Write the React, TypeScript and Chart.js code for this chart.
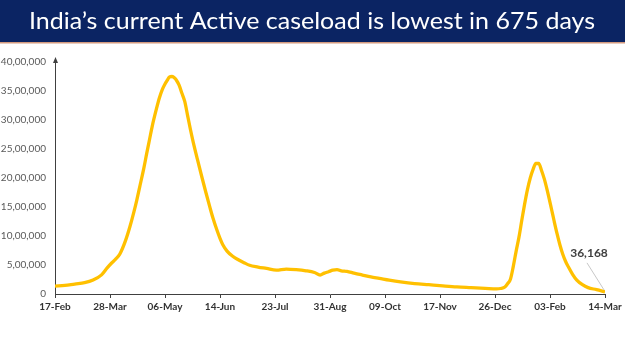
import React, { useEffect, useRef } from "react";
import { Chart, registerables } from "chart.js";

Chart.register(...registerables);

const TITLE = "India’s current Active caseload is lowest in 675 days";

const xTickLabels = [
  "17-Feb", "28-Mar", "06-May", "14-Jun", "23-Jul", "31-Aug",
  "09-Oct", "17-Nov", "26-Dec", "03-Feb", "14-Mar",
];
const X_STEP_DAYS = 39;

// days since 17-Feb-2021
const dayOffsets = [
  0, 7, 14, 21, 27, 33, 37, 40, 43, 46, 50, 53, 56, 58, 60, 63, 65, 67, 69, 72,
  74, 76, 78, 80, 81, 83, 85, 86, 88, 90, 92, 94, 96, 98, 101, 104, 107, 110, 112, 115,
  117, 119, 122, 126, 130, 134, 138, 144, 150, 157, 164, 171, 178, 184, 188, 191, 194, 197, 200, 203,
  207, 212, 218, 224, 230, 237, 245, 255, 265, 275, 285, 295, 305, 313, 316, 319, 321, 323, 325, 327,
  329, 331, 333, 335, 337, 339, 341, 343, 345, 347, 349, 352, 354, 356, 358, 360, 362, 364, 367, 370,
  374, 378, 384, 390,
];

const activeCases = [
  137000, 147000, 172000, 195000, 240000, 330000, 450000, 530000, 600000, 690000,
  920000, 1150000, 1420000, 1620000, 1840000, 2170000, 2420000, 2660000, 2900000, 3200000,
  3380000, 3520000, 3620000, 3700000, 3740000, 3750000, 3720000, 3690000, 3600000, 3460000,
  3320000, 3080000, 2840000, 2620000, 2320000, 2030000, 1750000, 1480000, 1310000, 1090000,
  960000, 850000, 740000, 650000, 590000, 540000, 495000, 465000, 440000, 410000,
  430000, 420000, 400000, 370000, 327000, 360000, 384000, 410000, 420000, 400000,
  390000, 360000, 327000, 295000, 270000, 240000, 210000, 180000, 160000, 140000,
  122000, 110000, 98000, 88000, 95000, 120000, 180000, 260000, 480000, 740000,
  980000, 1270000, 1550000, 1800000, 2000000, 2150000, 2250000, 2250000, 2130000, 1980000,
  1790000, 1470000, 1250000, 1040000, 850000, 690000, 565000, 470000, 340000, 240000,
  160000, 110000, 75000, 36168,
];

const Y_MAX = 4000000;
const Y_STEP = 500000;

function formatIndian(n: number): string {
  const s = Math.round(n).toString();
  if (s.length <= 3) return s;
  const last3 = s.slice(-3);
  let rest = s.slice(0, -3);
  const parts: string[] = [];
  while (rest.length > 2) {
    parts.unshift(rest.slice(-2));
    rest = rest.slice(0, -2);
  }
  if (rest) parts.unshift(rest);
  return parts.join(",") + "," + last3;
}

const decorPlugin = {
  id: "decor",
  beforeDraw(chart: any) {
    const ctx = chart.ctx as CanvasRenderingContext2D;
    ctx.save();
    ctx.fillStyle = "#ffffff";
    ctx.fillRect(0, 0, chart.width, chart.height);
    ctx.fillStyle = "#0b2463";
    ctx.fillRect(0, 0, chart.width, 42);
    ctx.fillStyle = "#d39a7e";
    ctx.fillRect(0, 42, chart.width, 1.5);
    ctx.font = "24px Lato";
    const w = ctx.measureText(TITLE).width;
    ctx.translate(29, 29);
    ctx.scale(566 / w, 1);
    ctx.fillStyle = "#ffffff";
    ctx.textBaseline = "alphabetic";
    ctx.textAlign = "left";
    ctx.fillText(TITLE, 0, 0);
    ctx.restore();
  },
  afterDraw(chart: any) {
    const ctx = chart.ctx as CanvasRenderingContext2D;
    const { chartArea } = chart;
    const xs = chart.scales.x;
    const ys = chart.scales.y;
    ctx.save();
    // y-axis arrow head
    const ax = Math.round(chartArea.left) + 0.5;
    ctx.strokeStyle = "#404040";
    ctx.fillStyle = "#404040";
    ctx.lineWidth = 1;
    ctx.beginPath();
    ctx.moveTo(ax, chartArea.top + 2);
    ctx.lineTo(ax, chartArea.top - 2);
    ctx.stroke();
    ctx.beginPath();
    ctx.moveTo(ax, chartArea.top - 5);
    ctx.lineTo(ax - 2.5, chartArea.top + 1);
    ctx.lineTo(ax + 2.5, chartArea.top + 1);
    ctx.closePath();
    ctx.fill();
    // last value annotation
    const li = dayOffsets.length - 1;
    const lx = xs.getPixelForValue(dayOffsets[li]);
    const ly = ys.getPixelForValue(activeCases[li]);
    ctx.strokeStyle = "#c8c8c8";
    ctx.lineWidth = 1;
    ctx.beginPath();
    ctx.moveTo(lx - 1, ly - 2);
    ctx.lineTo(lx - 18, ly - 29);
    ctx.stroke();
    ctx.font = "bold 12px Lato";
    ctx.fillStyle = "#404040";
    ctx.textAlign = "center";
    ctx.textBaseline = "middle";
    ctx.fillText(formatIndian(activeCases[li]), lx - 16, ly - 39);
    ctx.restore();
  },
};

export default function App() {
  const ref = useRef<HTMLCanvasElement | null>(null);

  useEffect(() => {
    if (!ref.current) return;
    const chart = new Chart(ref.current, {
      type: "line",
      data: {
        datasets: [
          {
            label: "Active cases",
            data: dayOffsets.map((d, i) => ({ x: d, y: activeCases[i] })),
            borderColor: "#FFC000",
            backgroundColor: "#FFC000",
            borderWidth: 3.3,
            pointRadius: 0,
            cubicInterpolationMode: "monotone",
            fill: false,
          },
        ],
      },
      options: {
        responsive: false,
        devicePixelRatio: 1,
        animation: false,
        events: [],
        layout: { padding: { top: 62, right: 20, left: 0, bottom: 0 } },
        plugins: {
          legend: { display: false },
          tooltip: { enabled: false },
          title: { display: false },
        },
        scales: {
          x: {
            type: "linear",
            min: 0,
            max: X_STEP_DAYS * (xTickLabels.length - 1),
            afterFit(scale: any) {
              scale.height = 57;
            },
            grid: {
              display: true,
              drawOnChartArea: false,
              drawTicks: true,
              tickLength: 4,
              color: "#404040",
            },
            border: { display: true, color: "#404040", width: 1 },
            ticks: {
              stepSize: X_STEP_DAYS,
              autoSkip: false,
              maxRotation: 0,
              padding: 3,
              color: "#333333",
              font: { family: "Lato", size: 10, weight: "bold" },
              callback: (v: any) => xTickLabels[Math.round(Number(v) / X_STEP_DAYS)] ?? "",
            },
          },
          y: {
            min: 0,
            max: Y_MAX,
            afterFit(scale: any) {
              scale.width = 55;
            },
            grid: { display: false, drawTicks: false },
            border: { display: true, color: "#404040", width: 1 },
            ticks: {
              stepSize: Y_STEP,
              padding: 9,
              color: "#595959",
              font: { family: "Lato", size: 10 },
              callback: (v: any) => formatIndian(Number(v)),
            },
          },
        },
      },
      plugins: [decorPlugin],
    } as any);
    return () => chart.destroy();
  }, []);

  return (
    <div style={{ position: "fixed", left: 0, top: 0, width: 625, height: 351, background: "#fff" }}>
      <canvas ref={ref} width={625} height={351} style={{ display: "block" }} />
    </div>
  );
}
